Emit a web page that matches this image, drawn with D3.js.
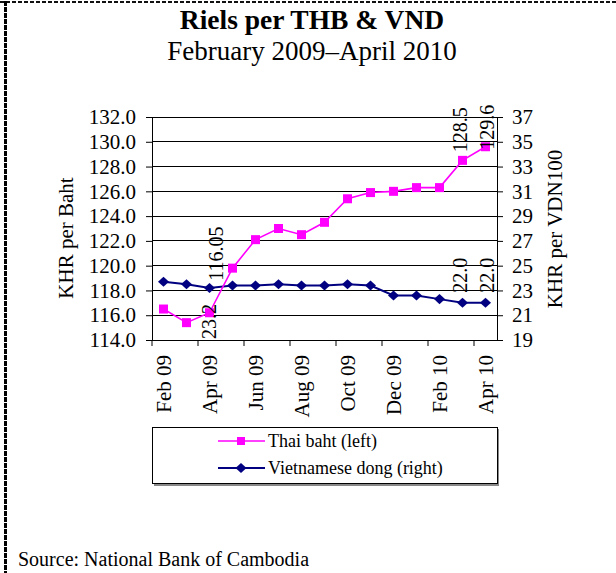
<!DOCTYPE html>
<html>
<head>
<meta charset="utf-8">
<script src="https://cdn.jsdelivr.net/npm/d3@7"></script>
<style>
  html, body { margin: 0; padding: 0; background: #fff; }
  svg { display: block; }
  text { font-family: "Liberation Serif", "Times New Roman", serif; fill: #000; }
</style>
</head>
<body>
<svg id="chart" width="616" height="573"></svg>
<script>
// ---- data ----
const months = ["Feb 09","Mar 09","Apr 09","May 09","Jun 09","Jul 09","Aug 09","Sep 09","Oct 09","Nov 09","Dec 09","Jan 10","Feb 10","Mar 10","Apr 10"];
const thaiBaht = [116.5,115.4,116.2,119.8,122.1,123.0,122.5,123.5,125.4,125.9,126.0,126.3,126.3,128.5,129.6];
const vietDong = [23.7,23.5,23.2,23.4,23.4,23.5,23.4,23.4,23.5,23.4,22.6,22.6,22.3,22.0,22.0];
const leftTicks = [114,116,118,120,122,124,126,128,130,132];
const rightTicks = [19,21,23,25,27,29,31,33,35,37];
const xTickLabels = ["Feb 09","Apr 09","Jun 09","Aug 09","Oct 09","Dec 09","Feb 10","Apr 10"];
const thaiLabelIdx = [2,13,14];
const thaiLabelText = ["116.05","128.5","129.6"];
const vietLabelIdx = [2,13,14];
const vietLabelText = ["23.2","22.0","22.0"];
const seriesNames = ["Thai baht (left)","Vietnamese dong (right)"];

// ---- layout ----
const svg = d3.select("#chart");
const L = 152, R = 497, T = 117, B = 340;
const magenta = "#FF00FF", navy = "#000080";
const serif = "'Liberation Serif', 'Times New Roman', serif";

const x = d3.scaleBand().domain(months).range([L, R]).padding(0);
const bw = x.bandwidth();
const xc = m => x(m) + bw / 2;
const yL = d3.scaleLinear().domain([114, 132]).range([B, T]);
const yR = d3.scaleLinear().domain([19, 37]).range([B, T]);

// dashed frame (top and left)
svg.append("line").attr("x1", 0).attr("x2", 616).attr("y1", 2).attr("y2", 2)
  .attr("stroke", "#111").attr("stroke-width", 2).attr("stroke-dasharray", "4,2");
svg.append("line").attr("x1", 5.5).attr("x2", 5.5).attr("y1", 1).attr("y2", 573)
  .attr("stroke", "#000").attr("stroke-width", 3).attr("stroke-dasharray", "5,1");

// titles
svg.append("text").attr("x", 312).attr("y", 29).attr("text-anchor", "middle")
  .style("font-size", "27.5px").style("font-weight", "bold").text("Riels per THB & VND");
svg.append("text").attr("x", 312).attr("y", 60).attr("text-anchor", "middle")
  .style("font-size", "27px").text("February 2009\u2013April 2010");

// gridlines
svg.append("g").selectAll("line").data(leftTicks).join("line")
  .attr("x1", L).attr("x2", R).attr("y1", d => yL(d)).attr("y2", d => yL(d))
  .attr("stroke", "#000").attr("stroke-width", 1).attr("shape-rendering", "crispEdges");

// left axis
const gL = svg.append("g").attr("transform", `translate(${L},0)`)
  .call(d3.axisLeft(yL).tickValues(leftTicks).tickFormat(d3.format(".1f")).tickSize(6).tickSizeOuter(0).tickPadding(10));
// right axis
const gR = svg.append("g").attr("transform", `translate(${R},0)`)
  .call(d3.axisRight(yR).tickValues(rightTicks).tickFormat(d3.format("d")).tickSize(6).tickSizeOuter(0).tickPadding(9));
// bottom axis
const bottomTicks = months.filter((m, i) => i % 2 === 0);
const gB = svg.append("g").attr("transform", `translate(0,${B})`)
  .call(d3.axisBottom(x).tickValues(bottomTicks).tickSize(6).tickSizeOuter(0).tickFormat(""));
gB.selectAll(".tick").attr("transform", d => `translate(${x(d)},0)`);
gB.select(".domain").attr("d", `M${L},0.5H${R}`);

[gL, gR, gB].forEach(g => {
  g.attr("font-family", null);
  g.selectAll("path,line").attr("stroke", "#000").attr("stroke-width", 1);
  g.selectAll("text").style("font-family", serif).style("font-size", "21px").attr("fill", "#000");
});

// x tick labels
svg.append("g").selectAll("text").data(xTickLabels).join("text")
  .attr("transform", d => `translate(${xc(d) + 7},355) rotate(-90)`)
  .attr("text-anchor", "end").style("font-size", "21px").text(d => d);

// axis titles
svg.append("text").attr("transform", "translate(73,238) rotate(-90)")
  .attr("text-anchor", "middle").style("font-size", "21px").text("KHR per Baht");
svg.append("text").attr("transform", "translate(562,229) rotate(-90)")
  .attr("text-anchor", "middle").style("font-size", "21px").text("KHR per VDN100");

// lines
const lineL = d3.line().x((d, i) => xc(months[i])).y(d => yL(d));
const lineR = d3.line().x((d, i) => xc(months[i])).y(d => yR(d));
svg.append("path").attr("d", lineR(vietDong)).attr("fill", "none").attr("stroke", navy).attr("stroke-width", 2);
svg.append("path").attr("d", lineL(thaiBaht)).attr("fill", "none").attr("stroke", magenta).attr("stroke-width", 1.6);

// markers
const diamond = d3.symbol().type(d3.symbolDiamond2 || d3.symbolDiamond).size(64);
svg.append("g").selectAll("path").data(vietDong).join("path")
  .attr("d", diamond).attr("fill", navy)
  .attr("transform", (d, i) => `translate(${xc(months[i])},${yR(d)}) scale(1.1,1)`);
svg.append("g").selectAll("rect").data(thaiBaht).join("rect")
  .attr("x", (d, i) => xc(months[i]) - 4.5).attr("y", d => yL(d) - 4.5)
  .attr("width", 9).attr("height", 9).attr("fill", magenta);

// data labels (rotated)
const thaiOff = [[13, -32], [4, -8], [8, 3]];
thaiLabelIdx.forEach((idx, k) => {
  svg.append("text")
    .attr("transform", `translate(${xc(months[idx]) + thaiOff[k][0]},${yL(thaiBaht[idx]) + thaiOff[k][1]}) rotate(-90)`)
    .attr("text-anchor", "start").style("font-size", "20px").style("font-family", serif).text(thaiLabelText[k]);
});
const vietOff = [[6, 51], [4, -10], [8, -10]];
vietLabelIdx.forEach((idx, k) => {
  svg.append("text")
    .attr("transform", `translate(${xc(months[idx]) + vietOff[k][0]},${yR(vietDong[idx]) + vietOff[k][1]}) rotate(-90)`)
    .attr("text-anchor", "start").style("font-size", "20px").style("font-family", serif).text(vietLabelText[k]);
});

// legend
const lg = svg.append("g");
lg.append("rect").attr("x", 154).attr("y", 429).attr("width", 345).attr("height", 57).attr("fill", "#888");
lg.append("rect").attr("x", 152.5).attr("y", 427.5).attr("width", 345).attr("height", 56)
  .attr("fill", "#fff").attr("stroke", "#000").attr("stroke-width", 1);
const rows = [441, 468];
// Thai row
lg.append("line").attr("x1", 218).attr("x2", 265).attr("y1", rows[0]).attr("y2", rows[0]).attr("stroke", magenta).attr("stroke-width", 1.6);
lg.append("rect").attr("x", 237).attr("y", rows[0] - 4).attr("width", 8).attr("height", 8).attr("fill", magenta);
// Viet row
lg.append("line").attr("x1", 218).attr("x2", 265).attr("y1", rows[1]).attr("y2", rows[1]).attr("stroke", navy).attr("stroke-width", 2);
lg.append("path").attr("d", diamond).attr("fill", navy).attr("transform", `translate(241,${rows[1]}) scale(1.1,1)`);
seriesNames.forEach((n, i) => {
  lg.append("text").attr("x", 268).attr("y", rows[i] + 6).style("font-size", "18px").text(n);
});

// source
svg.append("text").attr("x", 18).attr("y", 566).style("font-size", "20px").text("Source: National Bank of Cambodia");
</script>
</body>
</html>
